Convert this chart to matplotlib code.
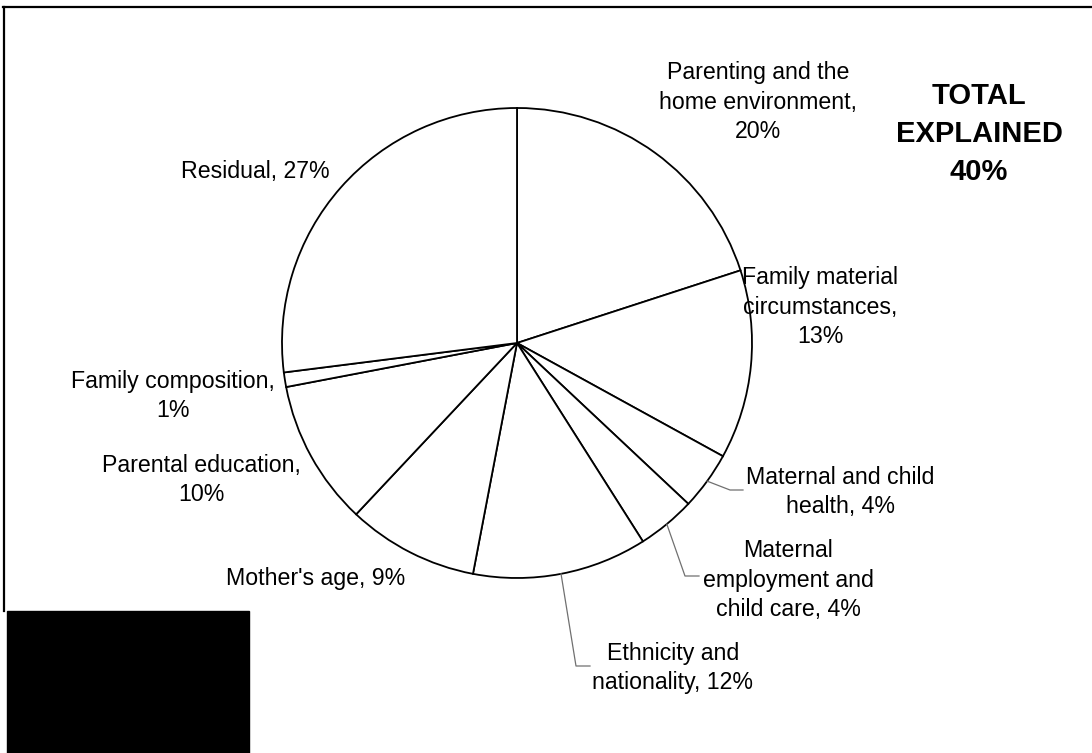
import numpy as np
import matplotlib
matplotlib.use("Agg")
import matplotlib.pyplot as plt
from matplotlib.lines import Line2D
from matplotlib.patches import Rectangle

plt.rcParams['font.family'] = ['Liberation Sans', 'DejaVu Sans']

# shares of the explained variation, clockwise from 12 o'clock
labels = ["Parenting and the\nhome environment,\n20%",
          "Family material\ncircumstances,\n13%",
          "Maternal and child\nhealth, 4%",
          "Maternal\nemployment and\nchild care, 4%",
          "Ethnicity and\nnationality, 12%",
          "Mother's age, 9%",
          "Parental education,\n10%",
          "Family composition,\n1%",
          "Residual, 27%"]
shares = [20, 13, 4, 4, 12, 9, 10, 1, 27]

# label centres in pixels (x from left, y from top)
label_px = [(758, 102), (820, 307), (840, 492), (788, 580), (673, 668),
            (316, 579), (201, 480), (173, 396), (255, 171)]
# slices with a leader line: index -> elbow and end points in pixels
leaders = {2: [(730, 490), (743, 490)],
           3: [(685, 576), (699, 576)],
           4: [(576, 666), (590, 666)]}

W, H = 1092, 753
cx, cy, R = 517, 343, 235


def to_data(px, py):
    return (px - cx) / R, (cy - py) / R


fig = plt.figure(figsize=(W / 100, H / 100), dpi=100)
ax = fig.add_axes([0, 0, 1, 1])
wedges, _ = ax.pie(shares, startangle=90, counterclock=False, radius=1,
                   colors=['white'] * len(shares),
                   wedgeprops=dict(edgecolor='black', linewidth=1.3))
ax.set_aspect('auto')
ax.set_xlim(-cx / R, (W - cx) / R)
ax.set_ylim(-(H - cy) / R, cy / R)
ax.axis('off')

cum = np.cumsum([0] + shares)
for i, (lab, (px, py)) in enumerate(zip(labels, label_px)):
    x, y = to_data(px, py)
    ax.text(x, y, lab, ha='center', va='center', fontsize=16.7,
            linespacing=1.38)
    if i in leaders:
        mid = (cum[i] + cum[i + 1]) / 2 / 100 * 2 * np.pi
        pts = [(np.sin(mid), np.cos(mid))] + [to_data(*p) for p in leaders[i]]
        xs, ys = zip(*pts)
        ax.plot(xs, ys, color='#707070', lw=0.9)

tx, ty = to_data(979, 134)
ax.text(tx, ty, "TOTAL\nEXPLAINED\n40%", ha='center', va='center',
        fontsize=21, fontweight='bold', linespacing=1.47)

# frame edges and the blacked-out corner
fig.add_artist(Line2D([3 / W, 1], [1 - 7 / H, 1 - 7 / H], color='black', lw=1.6))
fig.add_artist(Line2D([4 / W, 4 / W], [1 - 7 / H, 1 - 611 / H], color='black', lw=1.6))
fig.add_artist(Rectangle((7 / W, 0), (249 - 7) / W, (H - 611) / H,
                         transform=fig.transFigure, color='black'))

fig.savefig('out.png', dpi=100)
